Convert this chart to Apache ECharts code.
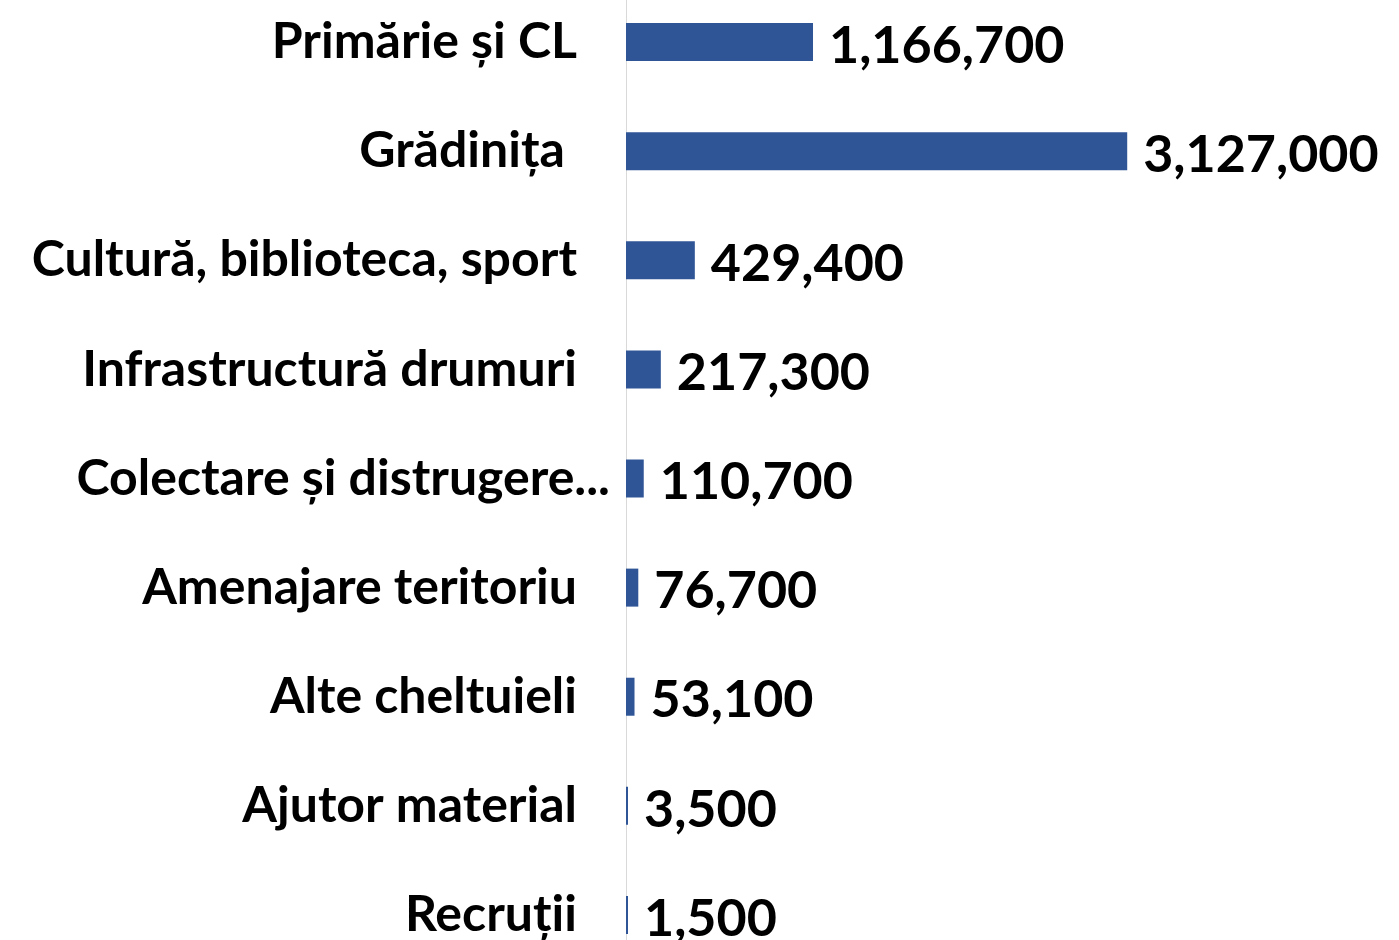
<!DOCTYPE html>
<html>
<head>
<meta charset="utf-8">
<script src="https://cdn.jsdelivr.net/npm/echarts@6/dist/echarts.min.js"></script>
<style>
html,body{margin:0;padding:0;background:#fff;}
#c{width:1399px;height:940px;}
</style>
</head>
<body>
<div id="c"></div>
<script>
const categories = [
  "Primărie și CL",
  "Grădinița ",
  "Cultură, biblioteca, sport",
  "Infrastructură drumuri",
  "Colectare și distrugere...",
  "Amenajare teritoriu",
  "Alte cheltuieli",
  "Ajutor material",
  "Recruții"
];
const values = [1166700, 3127000, 429400, 217300, 110700, 76700, 53100, 3500, 1500];
const truncatedLabels = ["Colectare și distrugere..."];

const chart = echarts.init(document.getElementById('c'), null, {renderer: 'canvas'});
const FONT = 'Lato, "Open Sans", sans-serif';
chart.setOption({
  animation: false,
  backgroundColor: '#fff',
  grid: {left: 626, top: -12.5, height: 982, width: 561, containLabel: false, outerBoundsMode: 'none'},
  xAxis: {
    type: 'value', min: 0, max: 3500000,
    axisLine: {show: false}, axisTick: {show: false},
    axisLabel: {show: false}, splitLine: {show: false}
  },
  yAxis: {
    type: 'category', inverse: true, data: categories,
    axisLine: {show: true, lineStyle: {color: '#D9D9D9', width: 1}},
    axisTick: {show: false},
    axisLabel: {
      margin: 16,
      formatter: function (v) {
        return truncatedLabels.indexOf(v) >= 0 ? '{t|' + v + '}' : '{n|' + v + '}';
      },
      rich: {
        n: {fontFamily: FONT, fontWeight: 'bold', fontSize: 50, color: '#000', padding: [0, 33, 0, 0]},
        t: {fontFamily: FONT, fontWeight: 'bold', fontSize: 50, color: '#000'}
      }
    }
  },
  series: [{
    type: 'bar', data: values, barWidth: 38, barMinHeight: 2,
    itemStyle: {color: '#2F5597'},
    label: {
      show: true, position: 'right', distance: 16,
      fontFamily: FONT, fontWeight: 'bold', fontSize: 52, color: '#000',
      offset: [0, 4],
      formatter: p => p.value.toLocaleString('en-US')
    }
  }]
});
</script>
</body>
</html>
